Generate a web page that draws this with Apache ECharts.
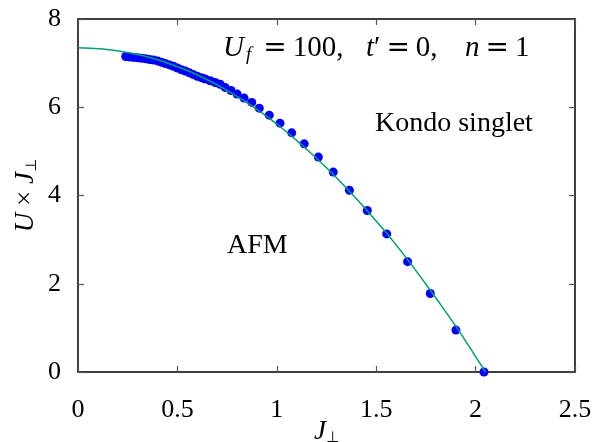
<!DOCTYPE html>
<html lang="en">
<head>
    <meta charset="UTF-8">
    <title>Kondo singlet / AFM boundary</title>
    <script src="https://cdn.jsdelivr.net/npm/echarts@6/dist/echarts.min.js"></script>
    <style>
        html, body { margin: 0; padding: 0; background: #fff; }
        #chart { width: 601px; height: 442px; }
    </style>
</head>
<body>
    <div id="chart"></div>
    <script>
        // numerical points (J_perp, U*J_perp)
        var pointJ = [0.24, 0.26, 0.28, 0.30, 0.32, 0.34, 0.36, 0.38, 0.40, 0.42,
                      0.44, 0.46, 0.48, 0.50, 0.52, 0.54, 0.56, 0.58, 0.60, 0.62,
                      0.64, 0.665, 0.69, 0.715, 0.74, 0.77, 0.80, 0.835, 0.874, 0.912,
                      0.962, 1.016, 1.075, 1.138, 1.209, 1.284, 1.365, 1.455, 1.553, 1.658,
                      1.772, 1.901, 2.042];
        var pointU = [7.15, 7.14, 7.13, 7.12, 7.11, 7.10, 7.08, 7.07, 7.05, 7.02,
                      6.99, 6.96, 6.93, 6.89, 6.85, 6.82, 6.78, 6.74, 6.70, 6.67,
                      6.64, 6.60, 6.56, 6.52, 6.45, 6.38, 6.30, 6.21, 6.11, 5.98,
                      5.82, 5.64, 5.42, 5.17, 4.87, 4.53, 4.12, 3.66, 3.13, 2.50,
                      1.78, 0.95, 0.00];

        // fitted curve
        var fitJ = [0, 0.125, 0.25, 0.375, 0.5, 0.625, 0.75, 0.875, 1.0, 1.125,
                    1.25, 1.375, 1.5, 1.625, 1.75, 1.825, 1.9, 1.95, 2.0, 2.05];
        var fitU = [7.35, 7.32, 7.24, 7.11, 6.92, 6.68, 6.38, 6.03, 5.62, 5.15,
                    4.63, 4.05, 3.42, 2.74, 1.99, 1.52, 1.04, 0.70, 0.35, 0.00];

        var xTicks = ['0', '0.5', '1', '1.5', '2', '2.5'];
        var yTicks = ['0', '2', '4', '6', '8'];

        var chart = echarts.init(document.getElementById('chart'));
        var serif = 'Liberation Serif';

        var points = pointJ.map(function (j, i) { return [j, pointU[i]]; });
        var fit = fitJ.map(function (j, i) { return [j, fitU[i]]; });

        var frame = { show: true, onZero: false, lineStyle: { color: '#000', width: 1.5 } };
        var tick = { show: true, inside: true, length: 6, lineStyle: { color: '#555', width: 1.2 } };
        var ital = { fontFamily: serif, fontStyle: 'italic', fontSize: 27, fill: '#000', color: '#000' };
        var roman = { fontFamily: serif, fontSize: 27, fill: '#000', color: '#000' };
        var perp = { fontFamily: 'DejaVu Sans', fontSize: 15, color: '#000', padding: [14, 0, 0, 0] };

        // styles for the parameter line at the top
        var eqRich = {
            i: { fontFamily: serif, fontStyle: 'italic', fontSize: 29, fill: '#000' },
            t: { fontFamily: serif, fontSize: 29, fill: '#000' },
            s: { fontFamily: serif, fontStyle: 'italic', fontSize: 19, fill: '#000', padding: [12, 6, 0, 2] },
            e: { fontFamily: 'DejaVu Serif', fontSize: 28, fill: '#000', padding: [0, 6, 0, 6] }
        };

        var option = {
            animation: false,
            grid: { left: 78, right: 26, top: 19, bottom: 70, outerBoundsMode: 'none' },
            xAxis: [{
                type: 'value', min: 0, max: 2.5, interval: 0.5,
                axisLine: frame, axisTick: tick, splitLine: { show: false },
                axisLabel: {
                    margin: 25, fontFamily: serif, fontSize: 26, color: '#000',
                    formatter: function (v) { return xTicks[Math.round(v / 0.5)]; }
                },
                name: '{i|J}{s|⊥}', nameLocation: 'middle', nameGap: 45, nameMoveOverlap: false,
                nameTextStyle: { rich: { i: ital, s: perp } }
            }, {
                type: 'value', position: 'top', min: 0, max: 2.5, interval: 0.5,
                axisLine: frame, axisTick: tick, axisLabel: { show: false }, splitLine: { show: false }
            }],
            yAxis: [{
                type: 'value', min: 0, max: 8, interval: 2,
                axisLine: frame, axisTick: tick, splitLine: { show: false },
                axisLabel: {
                    margin: 17, fontFamily: serif, fontSize: 26, color: '#000',
                    formatter: function (v) { return yTicks[Math.round(v / 2)]; }
                },
                name: '{i|U}{t| × }{i|J}{s|⊥}', nameLocation: 'middle', nameGap: 38, nameMoveOverlap: false,
                nameTextStyle: { rich: { i: ital, t: roman, s: perp } }
            }, {
                type: 'value', position: 'right', min: 0, max: 8, interval: 2,
                axisLine: frame, axisTick: tick, axisLabel: { show: false }, splitLine: { show: false }
            }],
            series: [{
                type: 'line',
                data: fit,
                smooth: true,
                showSymbol: false,
                lineStyle: { color: '#009e73', width: 1.5 },
                z: 3
            }, {
                type: 'scatter',
                data: points,
                symbol: 'circle',
                symbolSize: 9,
                itemStyle: { color: '#0000ff', opacity: 1 },
                z: 2
            }],
            graphic: [{
                type: 'text', left: 223, top: 34,
                style: { text: '{i|U}{s|f}{e|=}{t|100,}', rich: eqRich }
            }, {
                type: 'text', left: 366, top: 34,
                style: { text: '{i|t}{t|′}{e|=}{t|0,}', rich: eqRich }
            }, {
                type: 'text', left: 465, top: 34,
                style: { text: '{i|n}{e|=}{t|1}', rich: eqRich }
            }, {
                type: 'text', left: 375, top: 110,
                style: { text: 'Kondo singlet', fontFamily: serif, fontSize: 28, fill: '#000' }
            }, {
                type: 'text', left: 227, top: 232,
                style: { text: 'AFM', fontFamily: serif, fontSize: 28, fill: '#000' }
            }]
        };
        chart.setOption(option);
    </script>
</body>
</html>
